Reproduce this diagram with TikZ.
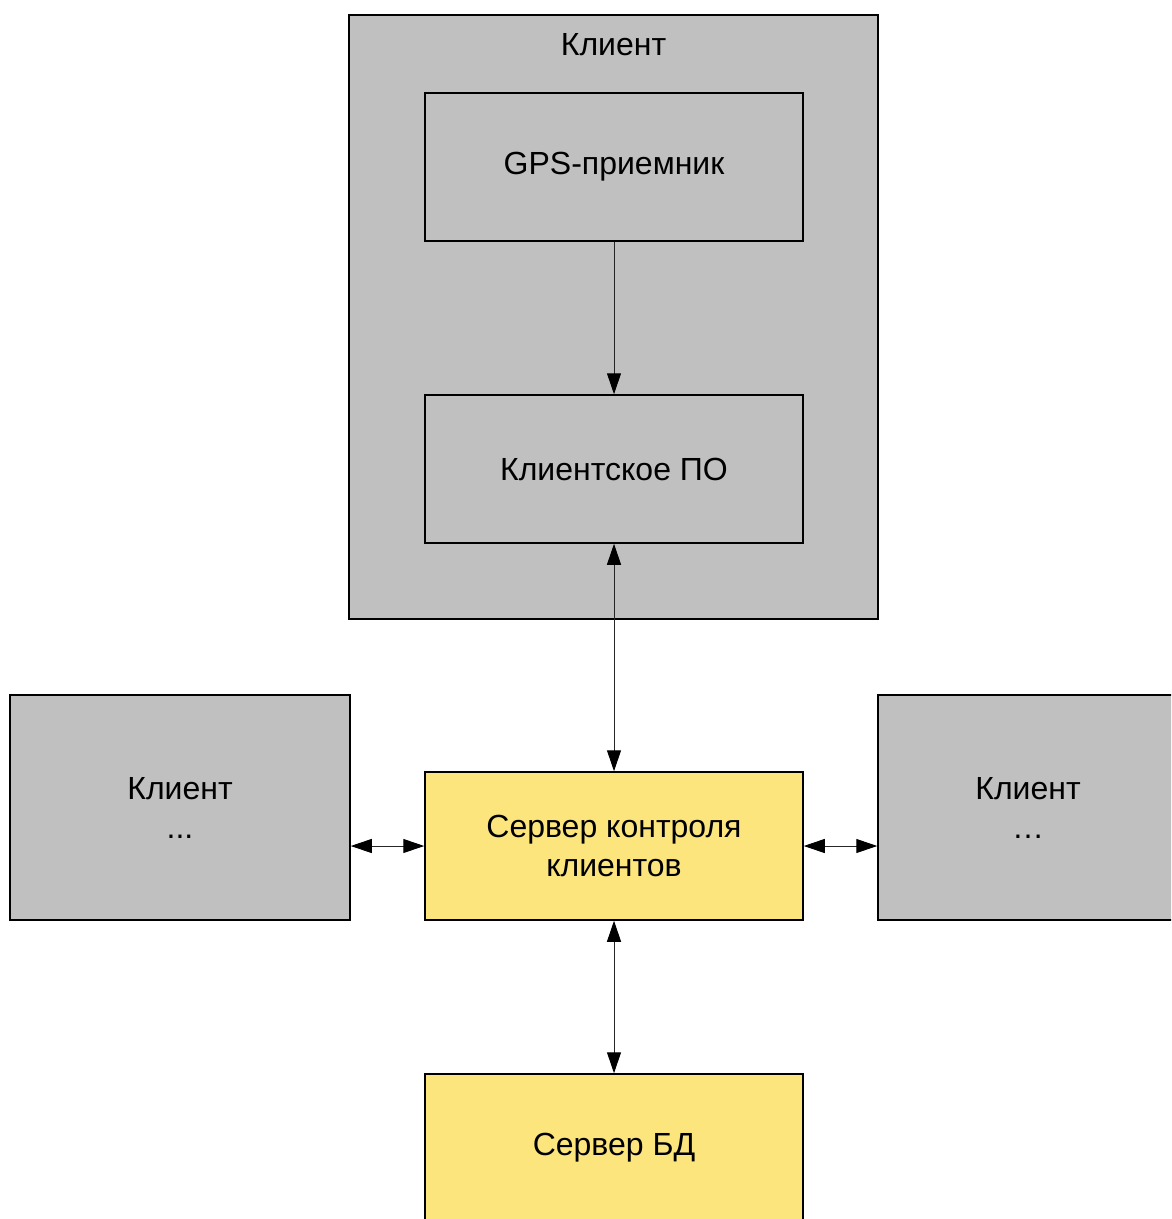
\documentclass[tikz,border=0pt]{standalone}
\usepackage{fontspec}
\setmainfont{Liberation Sans}
\usetikzlibrary{arrows.meta}

\definecolor{boxgray}{HTML}{C0C0C0}
\definecolor{boxyellow}{HTML}{FCE57C}

\tikzset{
    block/.style={draw=black, line width=0.75pt, fill=boxgray, inner sep=0pt,
        align=center, font=\fontsize{16pt}{19.5pt}\selectfont},
    srvblock/.style={block, fill=boxyellow},
    link/.style={draw=black!85, line width=0.5pt, -{Triangle[length=10.5pt, width=7pt, color=black]}},
    duplex/.style={link, {Triangle[length=10.5pt, width=7pt, color=black]}-{Triangle[length=10.5pt, width=7pt, color=black]}}
}

\begin{document}
\begin{tikzpicture}[x=0.5pt, y=-0.5pt]
        \useasboundingbox (0, 0) rectangle (1171, 1219);
        \clip (0, 0) rectangle (1171, 1219);

        % client with its parts
        \node (client) [block, minimum width=264.5pt, minimum height=302pt] at (613.5, 317) {};
        \node (clientlabel) [font=\fontsize{16pt}{19pt}\selectfont] at (613.5, 45) {Клиент};
        \node (gps) [block, minimum width=189pt, minimum height=74pt] at (614, 167) {GPS-приемник};
        \node (soft) [block, minimum width=189pt, minimum height=74pt] at (614, 469) {Клиентское ПО};

        % servers
        \node (server) [srvblock, minimum width=189pt, minimum height=74pt] at (614, 846) {Сервер контроля\\клиентов};
        \node (db) [srvblock, minimum width=189pt, minimum height=74pt] at (614, 1148) {Сервер БД};

        % other clients
        \node (left) [block, minimum width=170pt, minimum height=112.5pt] at (180, 807.5) {Клиент\\...};
        \node (right) [block, minimum width=150pt, minimum height=112.5pt] at (1028, 807.5) {Клиент\\…};

        \draw[link] (gps) -- (soft);
        \draw[duplex] (soft) -- (server);
        \draw[duplex] (server) -- (db);
        \draw[duplex] (left.east |- server) -- (server.west);
        \draw[duplex] (server.east) -- (right.west |- server);
\end{tikzpicture}
\end{document}
